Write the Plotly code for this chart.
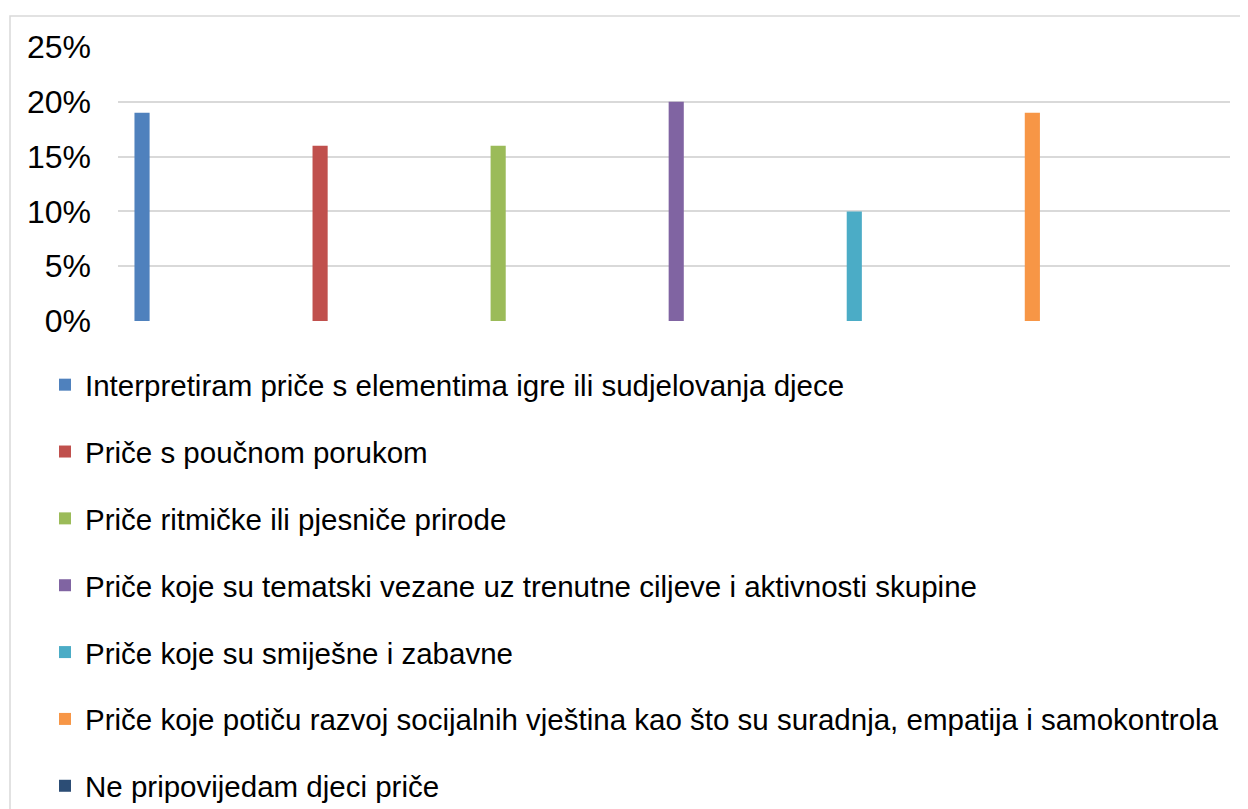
import plotly.graph_objects as go

# series names and values (%)
names = [
    "Interpretiram priče s elementima igre ili sudjelovanja djece",
    "Priče s poučnom porukom",
    "Priče ritmičke ili pjesniče prirode",
    "Priče koje su tematski vezane uz trenutne ciljeve i aktivnosti skupine",
    "Priče koje su smiješne i zabavne",
    "Priče koje potiču razvoj socijalnih vještina kao što su suradnja, empatija i samokontrola",
    "Ne pripovijedam djeci priče",
]
values = [19, 16, 16, 20, 10, 19, 0]
colors = ["#4f81bd", "#c0504d", "#9bbb59", "#8064a2", "#4bacc6", "#f79646", "#2c4d75"]
ytick_vals = [0, 5, 10, 15, 20, 25]
ytick_text = ["0%", "5%", "10%", "15%", "20%", "25%"]

fig = go.Figure()
for i, (n, v, c) in enumerate(zip(names, values, colors)):
    fig.add_trace(go.Bar(
        x=[i], y=[v], name=n, width=0.085,
        marker=dict(color=c, line=dict(width=0)),
        legendgroup="g%d" % i,
    ))

# page body adds an 8px offset, so figure is 1240x801
W, H = 1240, 801
L, R, T, B = 110, 18, 39, 5
pw = W - L - R
ph = H - T - B
ybot = (H - B - 313) / ph

fig.add_shape(type="rect", xref="paper", yref="paper",
              x0=(2 - L) / pw, x1=(W + 20 - L) / pw,
              y0=-0.1, y1=(H - B - 8) / ph,
              line=dict(color="#d9d9d9", width=1.5), fillcolor="rgba(0,0,0,0)",
              layer="below")

fig.update_layout(
    width=W, height=H,
    margin=dict(l=L, r=R, t=T, b=B, autoexpand=False),
    plot_bgcolor="white", paper_bgcolor="white",
    font=dict(family="Liberation Sans, Arial, sans-serif", color="black", size=29.5),
    showlegend=True,
    legend=dict(
        orientation="v", x=(37 - L) / pw, xanchor="left",
        y=(H - B - 351) / ph, yanchor="top",
        tracegroupgap=25.5, font=dict(size=29.5),
        bgcolor="rgba(0,0,0,0)",
    ),
    xaxis=dict(range=[-0.135, 6.11], showticklabels=False, showgrid=False,
               zeroline=False, showline=False, ticks=""),
    yaxis=dict(range=[0, 25], domain=[ybot, 1], tickvals=ytick_vals, ticktext=ytick_text,
               showgrid=True, gridcolor="#d9d9d9", gridwidth=2,
               zeroline=False, showline=False, ticks="",
               tickfont=dict(size=32), ticklabelstandoff=26),
    barmode="overlay",
)

fig.write_html("out.html")
